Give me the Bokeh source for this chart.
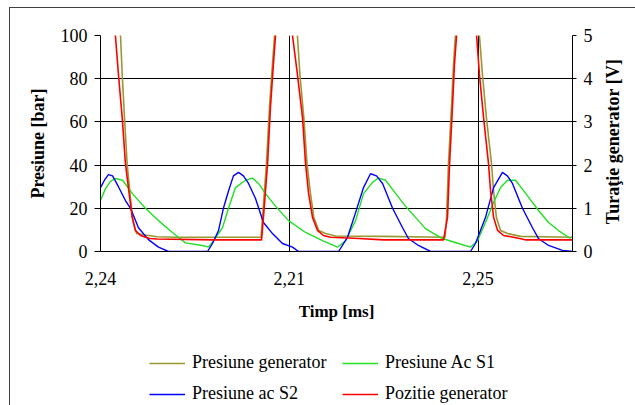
import math
from bokeh.plotting import figure
from bokeh.layouts import column, row
from bokeh.models import Range1d, LinearAxis, FixedTicker, Legend, LegendItem, Label
from bokeh.embed import file_html
from bokeh.resources import INLINE

# ---- data (x in sample units, category ticks at 0/100/200) ----
x_ticks = [0, 100, 200]
x_tick_labels = ["2,24", "2,21", "2,25"]
y_left_ticks = [0, 20, 40, 60, 80, 100]
y_right_ticks = [0, 1, 2, 3, 4, 5]

# Presiune generator [bar]
gen_x = [0, 10.6, 11.5, 12.7, 14.1, 15.5, 16.9, 18.5, 19.2, 24.7, 30, 40,
         85.0, 85.8, 87.9, 89.5, 91.1, 92.2, 98, 104.3, 105.6, 107.7, 109.4, 111.2,
         113.0, 115.6, 119.2, 124.5, 150, 182.5, 183.3, 184.3, 185.9, 187.0, 188.0,
         194, 200.7, 202.3, 204.4, 207.1, 208.2, 209.7, 211.9, 215.6, 222.5, 250]
gen_y = [160, 100, 82, 62, 40.7, 28, 15.7, 9.7, 8.3, 7.5, 6.8, 6.6,
         6.6, 15.7, 40.7, 66.7, 87, 100, 160, 100, 82, 62, 40.7, 27,
         15.7, 9.7, 8.3, 7.2, 7.0, 6.6, 15.7, 40.7, 66.7, 87, 100,
         160, 100, 82, 62, 40.7, 28, 15.7, 9.7, 8.3, 7.0, 6.6]

# Presiune Ac S1 [bar]
s1_x = [0, 2.6, 5.3, 7.9, 11.7, 16.9, 23.8, 30.7, 38.1, 45.0, 54.0, 57.2,
        59.9, 64.6, 67.8, 71.5, 76.8, 80.5, 83.7, 87.4, 92.7, 99.6, 108.6, 117.6,
        125.5, 129.8, 135.1, 139.3, 144.1, 147.2, 151.0, 156.2, 161.5, 168.4, 172.1,
        181.1, 189.6, 196.0, 199.7, 203.9, 208.2, 211.9, 215.6, 219.8, 225.1, 232.0,
        237.3, 242.6, 248.9]
s1_y = [23.6, 29, 32.5, 33.8, 33, 26.8, 20, 14.3, 8.8, 4, 2.8, 2,
        5, 11, 20, 29.6, 33, 34, 31.5, 26.8, 21, 14.3, 8.8, 5,
        2, 5, 14.3, 26.8, 32, 34, 33, 27, 21, 14.3, 10.6,
        6, 3.7, 2, 5, 13.4, 22.7, 29.6, 33, 33, 27, 19,
        13.4, 9.7, 6]

# Presiune ac S2 [bar]
s2_x = [0, 2.1, 4.2, 6.4, 9.5, 13.2, 15.9, 20.1, 25.4, 30.7, 36.0, 56.7,
        59.3, 62.5, 65.1, 67.8, 70.4, 73.1, 75.7, 78.4, 82.1, 86.3, 91.1, 96.4,
        101.7, 104.9, 126.1, 130.8, 135.1, 139.3, 143.0, 146.2, 149.4, 154.7, 160.0,
        163.1, 168.4, 174.8, 196.0, 198.6, 203.9, 208.2, 212.9, 215.5, 218.2, 223.5,
        228.8, 232.0, 237.3, 244.7, 250]
s2_y = [29.6, 33, 35.6, 35, 30, 23.6, 20, 11, 5.5, 2, 0, 0,
        3.7, 9.7, 20, 28, 35, 36.6, 35, 31.5, 24.5, 13.4, 8.3, 3.7,
        2, 0, 0, 6.5, 18, 29.6, 36, 35, 31.5, 20, 11,
        6, 2.8, 0, 0, 3.7, 15.7, 29.6, 36.6, 35, 31.5, 20,
        11, 6, 2.8, 0.5, 0]

# Pozitie generator [V] (right axis)
poz_x = [0, 7.9, 9.5, 11.5, 13.2, 15.0, 16.8, 18.5, 21.2, 26, 30, 60,
         85.3, 86.3, 88.5, 90.0, 91.6, 92.7, 97, 101.7, 104.3, 107.0, 108.6, 110.2,
         112.3, 114.9, 118.1, 121.8, 137, 150, 181.7, 183.8, 184.9, 186.4, 187.5, 188.6,
         194, 199.2, 200.7, 202.9, 205.5, 206.6, 208.2, 210.3, 213.5, 218.8, 225, 250]
poz_v = [8, 5, 4.1, 3.1, 2.04, 1.4, 0.79, 0.49, 0.37, 0.3, 0.29, 0.27,
         0.27, 0.79, 2.04, 3.33, 4.35, 5, 8, 5, 4.1, 3.1, 2.04, 1.35,
         0.79, 0.49, 0.37, 0.33, 0.3, 0.27, 0.27, 0.79, 2.04, 3.33, 4.35, 5,
         8, 5, 4.1, 3.1, 2.04, 1.4, 0.79, 0.49, 0.37, 0.33, 0.27, 0.27]

series_labels = ["Presiune generator", "Presiune Ac S1", "Presiune ac S2", "Pozitie generator"]
series_colors = ["#999933", "#22e022", "#0000ff", "#ff0000"]
series_widths = [1.6, 1.4, 1.4, 1.6]
legend_order = [0, 2, 1, 3]   # column-major fill -> rows: (gen, S1), (S2, poz)

x_title = "Timp [ms]"
y_title = "Presiune [bar]"
y2_title = "Turaţie generator [V]"

FONT = "Liberation Serif"

p = figure(width=600, height=330, x_range=Range1d(0, 250), y_range=Range1d(0, 100),
           output_backend="svg", toolbar_location=None,
           min_border_left=100, min_border_right=28, min_border_top=35, min_border_bottom=79)
p.extra_y_ranges = {"v": Range1d(0, 5)}
p.outline_line_color = None
p.background_fill_color = "white"
p.border_fill_alpha = 0

# x axis
xa = p.xaxis[0]
xa.ticker = FixedTicker(ticks=x_ticks)
xa.major_label_overrides = dict(zip(x_ticks, x_tick_labels))
xa.major_tick_out = 0
xa.major_tick_in = 0
xa.minor_tick_line_color = None
xa.major_label_standoff = 20
xa.axis_label = x_title
xa.axis_label_standoff = 14

# left axis
ya = p.yaxis[0]
ya.ticker = FixedTicker(ticks=y_left_ticks)
ya.major_tick_out = 6
ya.major_tick_in = 0
ya.minor_tick_line_color = None
ya.major_label_standoff = 7
ya.axis_label = y_title
ya.axis_label_standoff = 10

# right axis (its title is drawn in the narrow strip to the right)
ra = LinearAxis(y_range_name="v", ticker=FixedTicker(ticks=y_right_ticks))
ra.major_tick_out = 4
ra.major_tick_in = 0
ra.minor_tick_line_color = None
ra.major_label_standoff = 7
p.add_layout(ra, "right")

for ax in [xa, ya, ra]:
    ax.axis_line_color = "black"
    ax.major_tick_line_color = "black"
    ax.major_label_text_font = FONT
    ax.major_label_text_font_size = "18px"
    ax.major_label_text_color = "black"
    ax.axis_label_text_font = FONT
    ax.axis_label_text_font_style = "bold"
    ax.axis_label_text_color = "black"
    ax.axis_label_text_font_size = "18px"
xa.axis_label_text_font_size = "17px"

p.xgrid[0].ticker = FixedTicker(ticks=x_ticks)
p.ygrid[0].ticker = FixedTicker(ticks=y_left_ticks)
for g in [p.xgrid[0], p.ygrid[0]]:
    g.grid_line_color = "black"
    g.grid_line_width = 1

p.line(gen_x, gen_y, line_color=series_colors[0], line_width=series_widths[0])
p.line(s1_x, s1_y, line_color=series_colors[1], line_width=series_widths[1])
p.line(s2_x, s2_y, line_color=series_colors[2], line_width=series_widths[2])
p.line(poz_x, poz_v, y_range_name="v", line_color=series_colors[3], line_width=series_widths[3])

# narrow strip on the right with the secondary axis title (reads bottom to top)
rt = figure(width=35, height=330, x_range=Range1d(0, 35), y_range=Range1d(0, 100),
            output_backend="svg", toolbar_location=None,
            min_border_left=0, min_border_right=0, min_border_top=35, min_border_bottom=79,
            x_axis_location=None, y_axis_location=None)
rt.grid.visible = False
rt.outline_line_color = None
rt.border_fill_alpha = 0
rt.background_fill_alpha = 0
rt.add_layout(Label(x=12, y=50.9, text=y2_title, angle=math.pi / 2,
                    text_align="center", text_baseline="middle",
                    text_font=FONT, text_font_style="bold", text_font_size="18px",
                    text_color="black"))

# legend strip below the chart
q = figure(width=635, height=75, x_range=Range1d(0, 1), y_range=Range1d(0, 1),
           output_backend="svg", toolbar_location=None,
           min_border_left=100, min_border_right=63, min_border_top=0, min_border_bottom=0,
           x_axis_location=None, y_axis_location=None)
q.grid.visible = False
q.outline_line_color = None
q.border_fill_alpha = 0
q.background_fill_alpha = 0
rends = []
for lab, col, lw in zip(series_labels, series_colors, series_widths):
    rends.append(q.line([5, 6], [5, 6], line_color=col, line_width=lw))
items = [LegendItem(label=series_labels[i], renderers=[rends[i]]) for i in legend_order]
legend = Legend(items=items, ncols=2, location=(49, 1),
                glyph_width=36, glyph_height=20, label_height=20, label_width=140,
                label_standoff=7, spacing=10, padding=0, margin=0,
                border_line_color=None, background_fill_alpha=0,
                label_text_font=FONT, label_text_font_size="18px", label_text_color="black")
q.add_layout(legend, "center")

layout = column(row(p, rt, spacing=0), q, spacing=0,
                styles={"background": "linear-gradient(#404040, #404040) 9px 7px / 1px 100% no-repeat, "
                                      "linear-gradient(#404040, #404040) 9px 7px / 100% 1px no-repeat, white"})

open("out.html", "w").write(file_html(layout, INLINE))
